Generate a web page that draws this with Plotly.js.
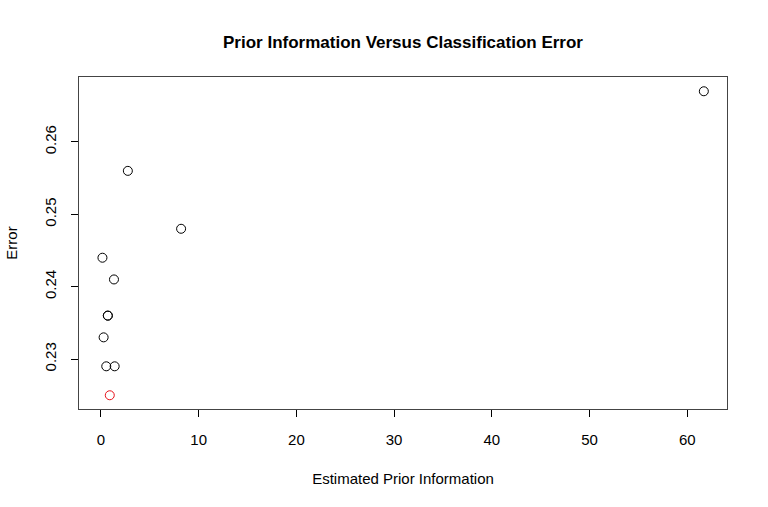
<!DOCTYPE html>
<html>
<head>
<meta charset="utf-8">
<script src="https://cdn.plot.ly/plotly-3.0.1.min.js"></script>
<style>html,body{margin:0;padding:0;background:#fff;}#chart{width:768px;height:507px;}</style>
</head>
<body>
<div id="chart"></div>
<script>
const priorInfo = [61.7, 2.75, 8.2, 0.15, 1.33, 0.7, 0.7, 0.27, 0.54, 1.4];
const errorVals = [0.267, 0.256, 0.248, 0.244, 0.241, 0.236, 0.236, 0.233, 0.229, 0.229];
const bestPrior = [0.9];
const bestError = [0.225];
const xTicks = [0, 10, 20, 30, 40, 50, 60];
const yTicks = [0.23, 0.24, 0.25, 0.26];

const font = 'Liberation Sans, Arial, sans-serif';
const traces = [
  {x: priorInfo, y: errorVals, type: 'scatter', mode: 'markers',
   marker: {symbol: 'circle-open', size: 9, color: '#000', line: {width: 1, color: '#000'}}},
  {x: bestPrior, y: bestError, type: 'scatter', mode: 'markers',
   marker: {symbol: 'circle-open', size: 9, color: '#e8121b', line: {width: 1, color: '#e8121b'}}}
];
const layout = {
  width: 768, height: 507,
  margin: {l: 79, r: 41, t: 77, b: 98},
  showlegend: false,
  paper_bgcolor: '#fff', plot_bgcolor: '#fff',
  font: {family: font, color: '#000', size: 15},
  title: {text: '<b>Prior Information Versus Classification Error</b>', x: 0.5, xref: 'paper', y: 0.917, yanchor: 'middle', font: {size: 17, family: font}},
  xaxis: {
    range: [-2.25, 64.07], tickvals: xTicks, ticktext: xTicks.map(String),
    showgrid: false, zeroline: false, showline: true, mirror: true, linecolor: '#444', linewidth: 1,
    ticks: 'outside', ticklen: 7, tickcolor: '#000', tickfont: {size: 15}, ticklabelstandoff: 10,
    title: {text: 'Estimated Prior Information', font: {size: 15}, standoff: 26}
  },
  yaxis: {
    range: [0.2231, 0.26897], tickvals: yTicks, ticktext: yTicks.map(v => v.toFixed(2)),
    showgrid: false, zeroline: false, showline: true, mirror: true, linecolor: '#444', linewidth: 1,
    ticks: 'outside', ticklen: 7, tickcolor: '#000', tickangle: -90, tickfont: {size: 15}, ticklabelstandoff: 9,
    title: {text: 'Error', font: {size: 15}, standoff: 20}
  }
};
Plotly.newPlot('chart', traces, layout, {staticPlot: true, displayModeBar: false});
</script>
</body>
</html>
